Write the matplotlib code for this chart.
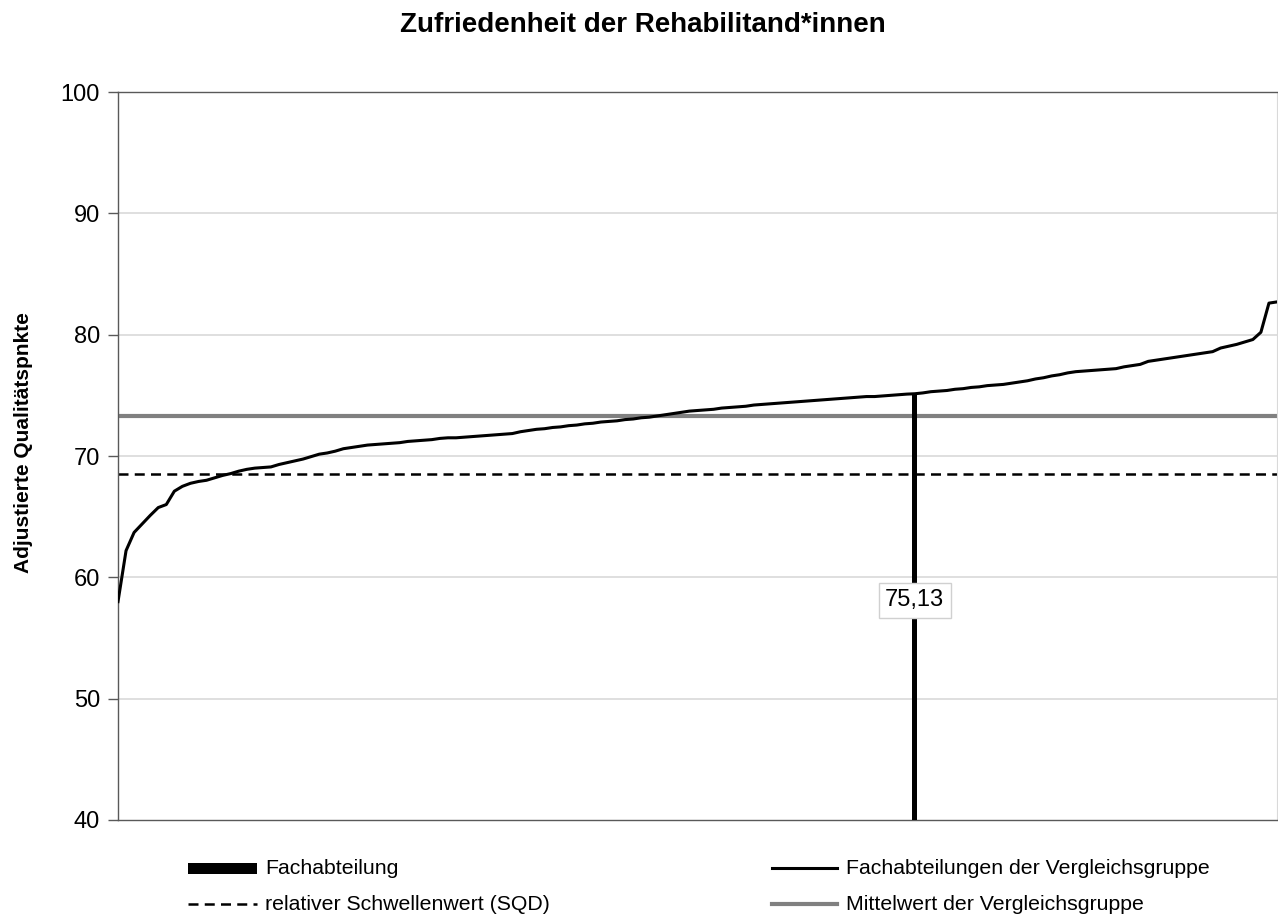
import matplotlib
matplotlib.use("Agg")
import matplotlib.pyplot as plt
from matplotlib.lines import Line2D
from matplotlib.patches import Rectangle

plt.rcParams['font.family'] = ['Liberation Sans', 'DejaVu Sans']

title = "Zufriedenheit der Rehabilitand*innen"
ylabel = "Adjustierte Qualitätspnkte"

# sorted adjusted quality points of the comparison group departments
group_values = [
    58.0, 62.2, 63.7, 64.4, 65.1, 65.75, 66.0, 67.1, 67.5, 67.75,
    67.9, 68.0, 68.2, 68.4, 68.55, 68.75, 68.9, 69.0, 69.05, 69.1,
    69.3, 69.45, 69.6, 69.75, 69.95, 70.15, 70.25, 70.4, 70.6, 70.7,
    70.8, 70.9, 70.95, 71.0, 71.05, 71.1, 71.2, 71.25, 71.3, 71.35,
    71.45, 71.5, 71.5, 71.55, 71.6, 71.65, 71.7, 71.75, 71.8, 71.85,
    72.0, 72.1, 72.2, 72.25, 72.35, 72.4, 72.5, 72.55, 72.65, 72.7,
    72.8, 72.85, 72.9, 73.0, 73.05, 73.15, 73.2, 73.3, 73.4, 73.5,
    73.6, 73.7, 73.75, 73.8, 73.85, 73.95, 74.0, 74.05, 74.1, 74.2,
    74.25, 74.3, 74.35, 74.4, 74.45, 74.5, 74.55, 74.6, 74.65, 74.7,
    74.75, 74.8, 74.85, 74.9, 74.9, 74.95, 75.0, 75.05, 75.1, 75.13,
    75.2, 75.3, 75.35, 75.4, 75.5, 75.55, 75.65, 75.7, 75.8, 75.85,
    75.9, 76.0, 76.1, 76.2, 76.35, 76.45, 76.6, 76.7, 76.85, 76.95,
    77.0, 77.05, 77.1, 77.15, 77.2, 77.35, 77.45, 77.55, 77.8, 77.9,
    78.0, 78.1, 78.2, 78.3, 78.4, 78.5, 78.6, 78.9, 79.05, 79.2,
    79.4, 79.6, 80.2, 82.6, 82.7,
]
dept_index = 99          # rank of the department within the group
dept_value = 75.13
dept_label = "75,13"
group_mean = 73.3
threshold = 68.5

y_ticks = [40, 50, 60, 70, 80, 90, 100]
legend_labels = ["Fachabteilung", "relativer Schwellenwert (SQD)",
                 "Fachabteilungen der Vergleichsgruppe", "Mittelwert der Vergleichsgruppe"]

W, H = 1278, 919
fig = plt.figure(figsize=(W / 100, H / 100), dpi=100)
ax = fig.add_axes([118 / W, 1 - 820 / H, (1277 - 118) / W, (820 - 92) / H])

x = list(range(len(group_values)))
ax.set_xlim(0, len(group_values) - 1)
ax.set_ylim(40, 100)

# grid
for t in y_ticks[1:-1]:
    ax.axhline(t, color='#d9d9d9', lw=1.2, zorder=0)

# department bar
ax.bar([dept_index], [dept_value - 40], bottom=40, width=0.6, color='black', zorder=3)

# lines
ax.axhline(group_mean, color='#808080', lw=3.0, zorder=2)
ax.axhline(threshold, color='black', lw=1.8, linestyle=(0, (4, 2.5)), zorder=2)
ax.plot(x, group_values, color='black', lw=2.2, zorder=4, solid_joinstyle='round')

# value label
ax.text(dept_index, 58.1, dept_label, ha='center', va='center', fontsize=17, zorder=5,
        bbox=dict(boxstyle='square,pad=0.28', fc='white', ec='#d0d0d0', lw=1.0))

ax.set_yticks(y_ticks)
ax.set_yticklabels([str(t) for t in y_ticks], fontsize=17)
ax.tick_params(axis='y', direction='out', length=7, width=1, color='#595959', pad=6)
ax.set_xticks([])
for s in ['left', 'bottom', 'top']:
    ax.spines[s].set_color('#595959')
    ax.spines[s].set_linewidth(1.0)
ax.spines['right'].set_color('#d9d9d9')

fig.text(643 / W, 1 - 25 / H, title, ha='center', va='center', fontsize=20, fontweight='bold')
fig.text(24 / W, 1 - 443 / H, ylabel, ha='center', va='center', rotation=90, fontsize=15, fontweight='bold')

# legend (manual)
def fx(px):
    return px / W

def fy(py):
    return 1 - py / H

fig.add_artist(Rectangle((fx(188), fy(874)), fx(257) - fx(188), fy(863) - fy(874),
                         transform=fig.transFigure, fc='black', ec='none'))
fig.add_artist(Line2D([fx(188), fx(257)], [fy(904), fy(904)], transform=fig.transFigure,
                      color='black', lw=1.8, linestyle=(0, (4, 2.5))))
fig.add_artist(Line2D([fx(772), fx(837)], [fy(868), fy(868)], transform=fig.transFigure,
                      color='black', lw=2.2))
fig.add_artist(Line2D([fx(772), fx(837)], [fy(904), fy(904)], transform=fig.transFigure,
                      color='#808080', lw=3.0))
fs_leg = 15.3
fig.text(fx(265), fy(868), legend_labels[0], ha='left', va='center', fontsize=fs_leg)
fig.text(fx(265), fy(904), legend_labels[1], ha='left', va='center', fontsize=fs_leg)
fig.text(fx(846), fy(868), legend_labels[2], ha='left', va='center', fontsize=fs_leg)
fig.text(fx(846), fy(904), legend_labels[3], ha='left', va='center', fontsize=fs_leg)

fig.savefig("out.png", dpi=100, facecolor='white')
